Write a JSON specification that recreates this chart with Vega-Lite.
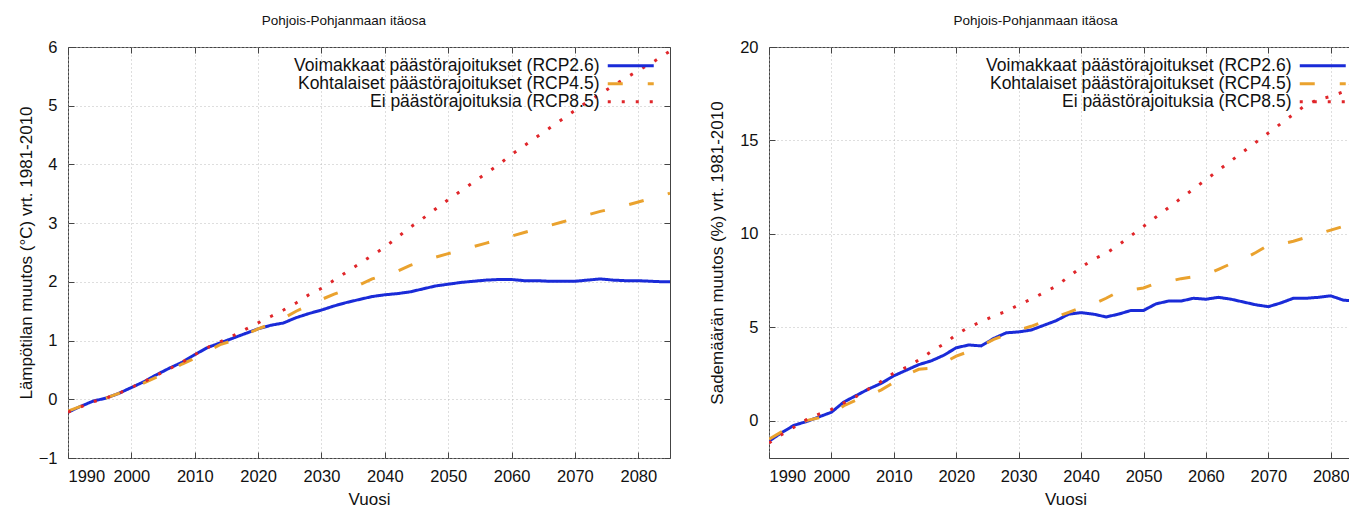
{
  "$schema": "https://vega.github.io/schema/vega-lite/v6.json",
  "background": "white",
  "padding": {"left": 16, "top": 13, "right": 0, "bottom": 0},
  "config": {
    "font": "Liberation Sans",
    "view": {"stroke": "#444444", "strokeWidth": 1},
    "axis": {
      "labelFontSize": 16.5,
      "labelColor": "#111111",
      "titleFontSize": 17,
      "titleFontWeight": "normal",
      "titleColor": "#111111",
      "domain": false,
      "tickColor": "#444444",
      "tickSize": -6,
      "gridColor": "#bdbdbd",
      "gridDash": [1, 3],
      "gridWidth": 1
    },
    "title": {"fontSize": 13.5, "fontWeight": "normal", "color": "#111111", "offset": 12, "frame": "bounds", "anchor": "middle"},
    "legend": {
      "orient": "top-right",
      "offset": 10,
      "padding": 0,
      "title": null,
      "labelFontSize": 17.5,
      "labelColor": "#111111",
      "labelLimit": 0,
      "labelAlign": "right",
      "labelOffset": -40,
      "symbolType": "M-4.6,0H4.6",
      "symbolSize": 100,
      "symbolStrokeWidth": 3,
      "rowPadding": -2,
      "fillColor": null,
      "strokeColor": null
    }
  },
  "datasets": {
    "labels": [
      {"k": "rcp26", "scenario": "Voimakkaat päästörajoitukset (RCP2.6)"},
      {"k": "rcp45", "scenario": "Kohtalaiset päästörajoitukset (RCP4.5)"},
      {"k": "rcp85", "scenario": "Ei päästörajoituksia (RCP8.5)"}
    ],
    "temp": [
      {"year": 1990, "rcp26": -0.22, "rcp45": -0.20, "rcp85": -0.22},
      {"year": 1992, "rcp26": -0.12, "rcp45": -0.12, "rcp85": -0.13},
      {"year": 1994, "rcp26": -0.03, "rcp45": -0.04, "rcp85": -0.04},
      {"year": 1996, "rcp26": 0.02, "rcp45": 0.02, "rcp85": 0.02},
      {"year": 1998, "rcp26": 0.10, "rcp45": 0.10, "rcp85": 0.10},
      {"year": 2000, "rcp26": 0.20, "rcp45": 0.19, "rcp85": 0.20},
      {"year": 2002, "rcp26": 0.30, "rcp45": 0.28, "rcp85": 0.30},
      {"year": 2004, "rcp26": 0.42, "rcp45": 0.38, "rcp85": 0.41},
      {"year": 2006, "rcp26": 0.53, "rcp45": 0.48, "rcp85": 0.52},
      {"year": 2008, "rcp26": 0.63, "rcp45": 0.60, "rcp85": 0.63},
      {"year": 2010, "rcp26": 0.76, "rcp45": 0.70, "rcp85": 0.76},
      {"year": 2012, "rcp26": 0.88, "rcp45": 0.82, "rcp85": 0.88},
      {"year": 2014, "rcp26": 0.96, "rcp45": 0.93, "rcp85": 0.98},
      {"year": 2016, "rcp26": 1.04, "rcp45": 1.00, "rcp85": 1.08},
      {"year": 2018, "rcp26": 1.12, "rcp45": 1.10, "rcp85": 1.19},
      {"year": 2020, "rcp26": 1.20, "rcp45": 1.20, "rcp85": 1.30},
      {"year": 2022, "rcp26": 1.26, "rcp45": 1.28, "rcp85": 1.41},
      {"year": 2024, "rcp26": 1.30, "rcp45": 1.38, "rcp85": 1.52},
      {"year": 2026, "rcp26": 1.39, "rcp45": 1.50, "rcp85": 1.64},
      {"year": 2028, "rcp26": 1.46, "rcp45": 1.60, "rcp85": 1.78},
      {"year": 2030, "rcp26": 1.52, "rcp45": 1.70, "rcp85": 1.89},
      {"year": 2032, "rcp26": 1.59, "rcp45": 1.79, "rcp85": 2.03},
      {"year": 2034, "rcp26": 1.65, "rcp45": 1.87, "rcp85": 2.17},
      {"year": 2036, "rcp26": 1.70, "rcp45": 1.95, "rcp85": 2.31},
      {"year": 2038, "rcp26": 1.75, "rcp45": 2.05, "rcp85": 2.45},
      {"year": 2040, "rcp26": 1.78, "rcp45": 2.12, "rcp85": 2.59},
      {"year": 2042, "rcp26": 1.80, "rcp45": 2.18, "rcp85": 2.76},
      {"year": 2044, "rcp26": 1.83, "rcp45": 2.28, "rcp85": 2.93},
      {"year": 2046, "rcp26": 1.88, "rcp45": 2.35, "rcp85": 3.08},
      {"year": 2048, "rcp26": 1.93, "rcp45": 2.42, "rcp85": 3.24},
      {"year": 2050, "rcp26": 1.96, "rcp45": 2.48, "rcp85": 3.40},
      {"year": 2052, "rcp26": 1.99, "rcp45": 2.54, "rcp85": 3.55},
      {"year": 2054, "rcp26": 2.01, "rcp45": 2.60, "rcp85": 3.70},
      {"year": 2056, "rcp26": 2.03, "rcp45": 2.66, "rcp85": 3.85},
      {"year": 2058, "rcp26": 2.04, "rcp45": 2.72, "rcp85": 4.00},
      {"year": 2060, "rcp26": 2.04, "rcp45": 2.78, "rcp85": 4.17},
      {"year": 2062, "rcp26": 2.02, "rcp45": 2.84, "rcp85": 4.32},
      {"year": 2064, "rcp26": 2.02, "rcp45": 2.90, "rcp85": 4.47},
      {"year": 2066, "rcp26": 2.01, "rcp45": 2.96, "rcp85": 4.62},
      {"year": 2068, "rcp26": 2.01, "rcp45": 3.02, "rcp85": 4.77},
      {"year": 2070, "rcp26": 2.01, "rcp45": 3.08, "rcp85": 4.92},
      {"year": 2072, "rcp26": 2.03, "rcp45": 3.14, "rcp85": 5.07},
      {"year": 2074, "rcp26": 2.05, "rcp45": 3.20, "rcp85": 5.20},
      {"year": 2076, "rcp26": 2.03, "rcp45": 3.25, "rcp85": 5.34},
      {"year": 2078, "rcp26": 2.02, "rcp45": 3.30, "rcp85": 5.47},
      {"year": 2080, "rcp26": 2.02, "rcp45": 3.36, "rcp85": 5.60},
      {"year": 2082, "rcp26": 2.01, "rcp45": 3.42, "rcp85": 5.72},
      {"year": 2084, "rcp26": 2.00, "rcp45": 3.48, "rcp85": 5.86},
      {"year": 2085, "rcp26": 2.00, "rcp45": 3.51, "rcp85": 5.93}
    ],
    "prec": [
      {"year": 1990, "rcp26": -1.10, "rcp45": -1.00, "rcp85": -1.20},
      {"year": 1992, "rcp26": -0.65, "rcp45": -0.60, "rcp85": -0.75},
      {"year": 1994, "rcp26": -0.25, "rcp45": -0.25, "rcp85": -0.35},
      {"year": 1996, "rcp26": -0.05, "rcp45": 0.00, "rcp85": 0.05},
      {"year": 1998, "rcp26": 0.20, "rcp45": 0.15, "rcp85": 0.35},
      {"year": 2000, "rcp26": 0.45, "rcp45": 0.35, "rcp85": 0.60},
      {"year": 2002, "rcp26": 1.00, "rcp45": 0.80, "rcp85": 0.95},
      {"year": 2004, "rcp26": 1.35, "rcp45": 1.10, "rcp85": 1.30},
      {"year": 2006, "rcp26": 1.70, "rcp45": 1.35, "rcp85": 1.70},
      {"year": 2008, "rcp26": 2.00, "rcp45": 1.65, "rcp85": 2.10},
      {"year": 2010, "rcp26": 2.40, "rcp45": 2.05, "rcp85": 2.55},
      {"year": 2012, "rcp26": 2.70, "rcp45": 2.45, "rcp85": 2.85},
      {"year": 2014, "rcp26": 3.00, "rcp45": 2.75, "rcp85": 3.25},
      {"year": 2016, "rcp26": 3.20, "rcp45": 2.80, "rcp85": 3.70},
      {"year": 2018, "rcp26": 3.50, "rcp45": 3.10, "rcp85": 4.10},
      {"year": 2020, "rcp26": 3.90, "rcp45": 3.45, "rcp85": 4.60},
      {"year": 2022, "rcp26": 4.05, "rcp45": 3.70, "rcp85": 5.00},
      {"year": 2024, "rcp26": 4.00, "rcp45": 4.00, "rcp85": 5.30},
      {"year": 2026, "rcp26": 4.40, "rcp45": 4.35, "rcp85": 5.60},
      {"year": 2028, "rcp26": 4.70, "rcp45": 4.60, "rcp85": 5.85},
      {"year": 2030, "rcp26": 4.75, "rcp45": 4.85, "rcp85": 6.20},
      {"year": 2032, "rcp26": 4.85, "rcp45": 5.05, "rcp85": 6.50},
      {"year": 2034, "rcp26": 5.10, "rcp45": 5.30, "rcp85": 6.85},
      {"year": 2036, "rcp26": 5.35, "rcp45": 5.55, "rcp85": 7.20},
      {"year": 2038, "rcp26": 5.70, "rcp45": 5.80, "rcp85": 7.70},
      {"year": 2040, "rcp26": 5.78, "rcp45": 6.05, "rcp85": 8.20},
      {"year": 2042, "rcp26": 5.70, "rcp45": 6.25, "rcp85": 8.65},
      {"year": 2044, "rcp26": 5.55, "rcp45": 6.55, "rcp85": 8.95},
      {"year": 2046, "rcp26": 5.70, "rcp45": 6.90, "rcp85": 9.40},
      {"year": 2048, "rcp26": 5.90, "rcp45": 7.00, "rcp85": 9.90},
      {"year": 2050, "rcp26": 5.90, "rcp45": 7.10, "rcp85": 10.40},
      {"year": 2052, "rcp26": 6.25, "rcp45": 7.35, "rcp85": 10.90},
      {"year": 2054, "rcp26": 6.40, "rcp45": 7.45, "rcp85": 11.40},
      {"year": 2056, "rcp26": 6.40, "rcp45": 7.60, "rcp85": 11.90},
      {"year": 2058, "rcp26": 6.55, "rcp45": 7.70, "rcp85": 12.40},
      {"year": 2060, "rcp26": 6.50, "rcp45": 7.80, "rcp85": 12.90},
      {"year": 2062, "rcp26": 6.60, "rcp45": 8.10, "rcp85": 13.40},
      {"year": 2064, "rcp26": 6.50, "rcp45": 8.40, "rcp85": 13.90},
      {"year": 2066, "rcp26": 6.35, "rcp45": 8.65, "rcp85": 14.40},
      {"year": 2068, "rcp26": 6.20, "rcp45": 9.00, "rcp85": 14.90},
      {"year": 2070, "rcp26": 6.10, "rcp45": 9.40, "rcp85": 15.40},
      {"year": 2072, "rcp26": 6.30, "rcp45": 9.45, "rcp85": 15.90},
      {"year": 2074, "rcp26": 6.55, "rcp45": 9.60, "rcp85": 16.40},
      {"year": 2076, "rcp26": 6.55, "rcp45": 9.80, "rcp85": 16.90},
      {"year": 2078, "rcp26": 6.60, "rcp45": 10.00, "rcp85": 17.20},
      {"year": 2080, "rcp26": 6.68, "rcp45": 10.20, "rcp85": 17.35},
      {"year": 2082, "rcp26": 6.45, "rcp45": 10.40, "rcp85": 17.60},
      {"year": 2084, "rcp26": 6.40, "rcp45": 10.55, "rcp85": 18.30},
      {"year": 2085, "rcp26": 6.40, "rcp45": 10.65, "rcp85": 18.60}
    ]
  },
  "spacing": 37,
  "resolve": {"legend": {"color": "independent", "strokeDash": "independent"}},
  "hconcat": [
    {
      "width": 602,
      "height": 411,
      "title": "Pohjois-Pohjanmaan itäosa",
      "data": {"name": "temp"},
      "transform": [
        {"fold": ["rcp26", "rcp45", "rcp85"], "as": ["k", "value"]},
        {"lookup": "k", "from": {"data": {"name": "labels"}, "key": "k", "fields": ["scenario"]}}
      ],
      "resolve": {"axis": {"x": "independent", "y": "independent"}},
      "layer": [
        {
          "mark": {"type": "line", "strokeWidth": 3, "strokeCap": "butt", "clip": true},
          "encoding": {
            "x": {"field": "year", "type": "quantitative",
                  "scale": {"domain": [1990, 2085], "nice": false, "zero": false},
                  "axis": {"title": "Vuosi", "values": [1990, 2000, 2010, 2020, 2030, 2040, 2050, 2060, 2070, 2080], "format": "d", "grid": true, "labelPadding": 16, "titlePadding": 7}},
            "y": {"field": "value", "type": "quantitative",
                  "scale": {"domain": [-1, 6], "nice": false, "zero": false},
                  "axis": {"title": "Lämpötilan muutos (°C) vrt. 1981-2010", "values": [-1, 0, 1, 2, 3, 4, 5, 6], "grid": true, "labelPadding": 17, "titlePadding": 3}},
            "color": {"field": "scenario", "type": "nominal",
                      "scale": {"domain": ["Voimakkaat päästörajoitukset (RCP2.6)", "Kohtalaiset päästörajoitukset (RCP4.5)", "Ei päästörajoituksia (RCP8.5)"],
                                "range": ["#1a2bd8", "#eaa22e", "#e0262a"]}},
            "strokeDash": {"field": "scenario", "type": "nominal",
                           "scale": {"domain": ["Voimakkaat päästörajoitukset (RCP2.6)", "Kohtalaiset päästörajoitukset (RCP4.5)", "Ei päästörajoituksia (RCP8.5)"],
                                     "range": [[1, 0], [15, 25], [3, 11]]}},
            "order": {"field": "k", "sort": "descending"}
          }
        },
        {
          "mark": {"type": "line", "opacity": 0},
          "encoding": {
            "x": {"field": "year", "type": "quantitative",
                  "axis": {"orient": "top", "labels": false, "title": null, "grid": false, "values": [1990, 2000, 2010, 2020, 2030, 2040, 2050, 2060, 2070, 2080]}},
            "y": {"field": "value", "type": "quantitative",
                  "axis": {"orient": "right", "labels": false, "title": null, "grid": false, "values": [-1, 0, 1, 2, 3, 4, 5, 6]}},
            "detail": {"field": "k"}
          }
        }
      ]
    },
    {
      "width": 593,
      "height": 411,
      "title": "Pohjois-Pohjanmaan itäosa",
      "data": {"name": "prec"},
      "transform": [
        {"fold": ["rcp26", "rcp45", "rcp85"], "as": ["k", "value"]},
        {"lookup": "k", "from": {"data": {"name": "labels"}, "key": "k", "fields": ["scenario"]}}
      ],
      "resolve": {"axis": {"x": "independent", "y": "independent"}},
      "layer": [
        {
          "mark": {"type": "line", "strokeWidth": 3, "strokeCap": "butt", "clip": true},
          "encoding": {
            "x": {"field": "year", "type": "quantitative",
                  "scale": {"domain": [1990, 2085], "nice": false, "zero": false},
                  "axis": {"title": "Vuosi", "values": [1990, 2000, 2010, 2020, 2030, 2040, 2050, 2060, 2070, 2080], "format": "d", "grid": true, "labelPadding": 16, "titlePadding": 7}},
            "y": {"field": "value", "type": "quantitative",
                  "scale": {"domain": [-2, 20], "nice": false, "zero": false},
                  "axis": {"title": "Sademäärän muutos (%) vrt. 1981-2010", "values": [0, 5, 10, 15, 20], "grid": true, "labelPadding": 17, "titlePadding": 13}},
            "color": {"field": "scenario", "type": "nominal",
                      "scale": {"domain": ["Voimakkaat päästörajoitukset (RCP2.6)", "Kohtalaiset päästörajoitukset (RCP4.5)", "Ei päästörajoituksia (RCP8.5)"],
                                "range": ["#1a2bd8", "#eaa22e", "#e0262a"]}},
            "strokeDash": {"field": "scenario", "type": "nominal",
                           "scale": {"domain": ["Voimakkaat päästörajoitukset (RCP2.6)", "Kohtalaiset päästörajoitukset (RCP4.5)", "Ei päästörajoituksia (RCP8.5)"],
                                     "range": [[1, 0], [15, 25], [3, 11]]}},
            "order": {"field": "k", "sort": "descending"}
          }
        },
        {
          "mark": {"type": "line", "opacity": 0},
          "encoding": {
            "x": {"field": "year", "type": "quantitative",
                  "axis": {"orient": "top", "labels": false, "title": null, "grid": false, "values": [1990, 2000, 2010, 2020, 2030, 2040, 2050, 2060, 2070, 2080]}},
            "y": {"field": "value", "type": "quantitative",
                  "axis": {"orient": "right", "labels": false, "title": null, "grid": false, "values": [0, 5, 10, 15, 20]}},
            "detail": {"field": "k"}
          }
        }
      ]
    }
  ]
}
